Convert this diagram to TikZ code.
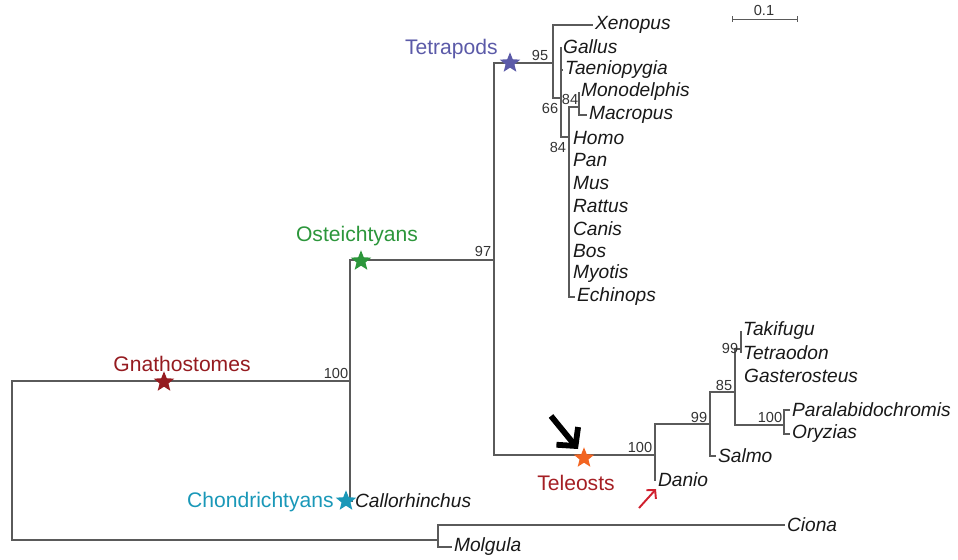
\documentclass[tikz,border=0pt]{standalone}
\usepackage{fontspec}
\setmainfont{Liberation Sans}
\usetikzlibrary{shapes.geometric,arrows.meta}
\definecolor{branchgray}{HTML}{5A5A5A}
\definecolor{tetblue}{HTML}{5B5AA8}
\definecolor{ostgreen}{HTML}{2C963B}
\definecolor{gnared}{HTML}{951B20}
\definecolor{telorange}{HTML}{F26522}
\definecolor{telred}{HTML}{A51F24}
\definecolor{chondteal}{HTML}{1A98B8}
\definecolor{arrowred}{HTML}{D0202E}
\begin{document}
\begin{tikzpicture}[x=0.02cm,y=-0.02cm,
	branch/.style={draw=branchgray,line width=0.7pt},
	taxon/.style={anchor=west,inner sep=1pt,font=\fontsize{10.9}{12}\selectfont\itshape,text=black!90},
	boot/.style={inner sep=0pt,font=\fontsize{8.3}{9}\selectfont,text=black!80},
	clade/.style={inner sep=0pt,font=\fontsize{12}{13}\selectfont},
	cladestar/.style={star,star points=5,star point ratio=2.3,fill=#1,draw=none,minimum size=0.43cm,inner sep=0pt}]
	\useasboundingbox (0,0) rectangle (958,559);
	% internal nodes
	\coordinate (root) at (12,460);
	\coordinate (gna) at (350,381);
	\coordinate (tun) at (438,540);
	\coordinate (ost) at (494,260);
	\coordinate (tet) at (553,63);
	\coordinate (n66) at (561,98);
	\coordinate (mam) at (569,137);
	\coordinate (mar) at (579,107);
	\coordinate (tel) at (655,455);
	\coordinate (n99) at (710,424);
	\coordinate (n85) at (735,392);
	\coordinate (puf) at (741,349);
	\coordinate (cic) at (784,425);
	% tips
	\node[taxon] (xen) at (593,25) {Xenopus};
	\node[taxon] (gal) at (561,47) {Gallus};
	\node[taxon] (tae) at (563,70) {Taeniopygia};
	\node[taxon] (mon) at (579,92) {Monodelphis};
	\node[taxon] (mac) at (587,115) {Macropus};
	\foreach \name/\y in {Homo/138,Pan/160,Mus/183,Rattus/206,Canis/229,Bos/251,Myotis/274}
		\node[taxon] (\name) at (571,\y) {\name};
	\node[taxon] (ech) at (575,297) {Echinops};
	\node[taxon] (tak) at (741,331) {Takifugu};
	\node[taxon] (teo) at (741,353) {Tetraodon};
	\node[taxon] (gas) at (742,376) {Gasterosteus};
	\node[taxon] (par) at (790,410) {Paralabidochromis};
	\node[taxon] (ory) at (790,434) {Oryzias};
	\node[taxon] (sal) at (716,456) {Salmo};
	\node[taxon] (dan) at (656,480) {Danio};
	\node[taxon] (cal) at (353,501) {Callorhinchus};
	\node[taxon] (cio) at (785,525) {Ciona};
	\node[taxon] (mol) at (452,547) {Molgula};
	% branches
	\draw[branch] (root) |- (gna) (root) |- (tun);
	\draw[branch] (gna) |- (ost) (gna) |- (cal.west);
	\draw[branch] (tun) |- (cio.west) (tun) |- (mol.west);
	\draw[branch] (ost) |- (tet) (ost) |- (tel);
	\draw[branch] (tet) |- (xen.west) (tet) |- (n66);
	\draw[branch] (n66) |- (gal.west) (n66) |- (tae.west) (n66) |- (mam);
	\draw[branch] (mam) |- (mar) (mam) |- (ech.west);
	\draw[branch] (mar) |- (mon.west) (mar) |- (mac.west);
	\draw[branch] (tel) |- (n99) (tel) |- (dan.west);
	\draw[branch] (n99) |- (n85) (n99) |- (sal.west);
	\draw[branch] (n85) |- (puf) (n85) |- (cic);
	\draw[branch] (puf) |- (tak.west) (puf) |- (teo.west);
	\draw[branch] (cic) |- (par.west) (cic) |- (ory.west);
	% support values
	\node[boot] at (540,55) {95};
	\node[boot] at (550,108) {66};
	\node[boot] at (570,99) {84};
	\node[boot] at (558,147) {84};
	\node[boot] at (483,251) {97};
	\node[boot] at (336,373) {100};
	\node[boot] at (640,447) {100};
	\node[boot] at (699,417) {99};
	\node[boot] at (724,385) {85};
	\node[boot] at (730,348) {99};
	\node[boot] at (770,417) {100};
	% clades
	\node[cladestar=tetblue] (tets) at (510,63) {};
	\node[cladestar=ostgreen] (osts) at (361,261) {};
	\node[cladestar=gnared] (gnas) at (164,382) {};
	\node[cladestar=telorange] (tels) at (584,458) {};
	\node[cladestar=chondteal] (chos) at (346,501) {};
	\node[clade,text=tetblue,anchor=east] at (498,49) {Tetrapods};
	\node[clade,text=ostgreen] at (357,236) {Osteichtyans};
	\node[clade,text=gnared] at (182,364) {Gnathostomes};
	\node[clade,text=telred] at (576,483) {Teleosts};
	\node[clade,text=chondteal,anchor=east] at (334,502) {Chondrichtyans};
	% arrows
	\coordinate (blk) at (551,416);
	\coordinate (blkend) at (578,449);
	\draw[line width=3.3pt,-{Straight Barb[length=2.6mm,width=5.6mm]}] (blk) -- (blkend);
	\coordinate (redstart) at (639,508);
	\draw[arrowred,line width=1.1pt,-{Straight Barb[length=1.2mm,width=2.6mm]}] (redstart) -- (dan.south west);
	% scale bar
	\coordinate (sbl) at (732,19);
	\coordinate (sbr) at (797,19);
	\draw[branchgray,line width=0.5pt] (sbl) -- (sbr) (sbl) ++(0,-3) -- ++(0,6) (sbr) ++(0,-3) -- ++(0,6);
	\node[boot] at (764,10) {0.1};
\end{tikzpicture}
\end{document}
